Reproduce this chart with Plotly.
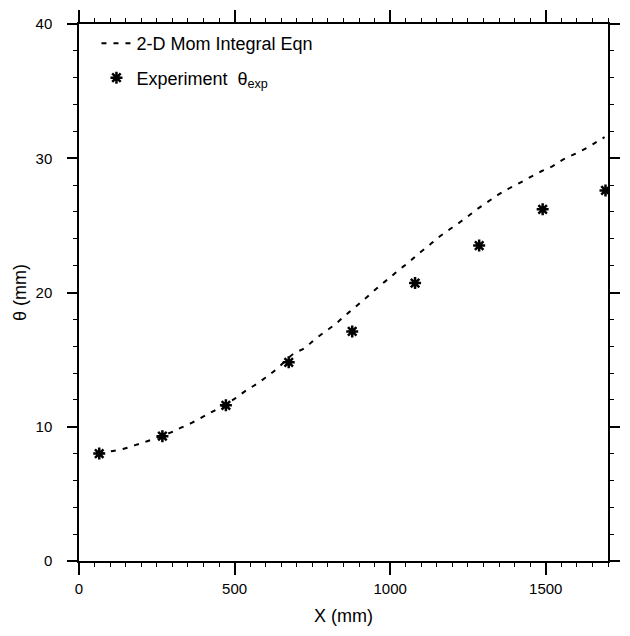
import plotly.graph_objects as go

# Momentum-integral prediction (dashed curve)
curve_x = [65, 103, 144, 183, 219, 296, 330, 364, 399, 434, 504, 535, 569, 600, 633,
           689, 724, 755, 789, 820, 849, 881, 912, 939, 969, 999, 1029, 1060, 1090,
           1123, 1152, 1183, 1216, 1249, 1279, 1311, 1345, 1379, 1415, 1450, 1486,
           1521, 1555, 1592, 1629, 1662, 1689]
curve_y = [7.95, 8.17, 8.36, 8.65, 8.92, 9.58, 9.95, 10.31, 10.75, 11.19, 12.14, 12.67,
           13.16, 13.67, 14.26, 15.43, 15.85, 16.45, 17.06, 17.57, 18.16, 18.79, 19.4,
           19.94, 20.55, 21.11, 21.7, 22.25, 22.87, 23.47, 24.04, 24.57, 25.1, 25.66,
           26.2, 26.71, 27.25, 27.71, 28.15, 28.59, 29.03, 29.4, 29.89, 30.3, 30.74,
           31.2, 31.57]

# Experimental momentum thickness
exp_x = [65, 268, 472, 674, 878, 1080, 1286, 1490, 1692]
exp_y = [8.0, 9.3, 11.6, 14.8, 17.1, 20.7, 23.5, 26.2, 27.6]

x_ticks = [0, 500, 1000, 1500]
y_ticks = [0, 10, 20, 30, 40]

FONT = "Liberation Sans"

fig = go.Figure()
fig.add_trace(go.Scatter(
    x=curve_x, y=curve_y, mode="lines", name="2-D Mom Integral Eqn",
    line=dict(color="black", width=2, dash="5px,7px", shape="spline"),
    legendgroup="a"))
fig.add_trace(go.Scatter(
    x=exp_x, y=exp_y, mode="markers", name="Experiment  θ<sub>exp</sub>",
    marker=dict(symbol="asterisk-open", size=10, color="black",
                line=dict(color="black", width=2.5)),
    legendgroup="b"))

axis_common = dict(
    showline=True, linecolor="black", linewidth=1.5, mirror="ticks",
    ticks="outside", tickcolor="black", tickwidth=1.5,
    showgrid=False, zeroline=False,
    tickfont=dict(family=FONT, size=15, color="black"),
)

fig.update_xaxes(
    range=[0, 1700], tickvals=x_ticks, ticklen=12,
    minor=dict(dtick=50, tick0=0, ticklen=4, ticks="outside", tickcolor="black", tickwidth=1),
    title=dict(text="X (mm)", font=dict(family=FONT, size=18, color="black"), standoff=14),
    ticklabelstandoff=1,
    **axis_common)
fig.update_yaxes(
    range=[0, 40], tickvals=y_ticks, ticklen=10,
    minor=dict(dtick=2, tick0=0, ticklen=4, ticks="outside", tickcolor="black", tickwidth=1),
    title=dict(text="θ (mm)", font=dict(family=FONT, size=18, color="black"), standoff=4),
    ticklabelstandoff=12,
    **axis_common)

fig.update_layout(
    width=630, height=636,
    margin=dict(l=79, r=10, t=14, b=75),
    paper_bgcolor="white", plot_bgcolor="white",
    showlegend=True,
    legend=dict(x=0.033, y=0.998, xanchor="left", yanchor="top",
                bgcolor="rgba(0,0,0,0)", borderwidth=0,
                font=dict(family=FONT, size=18, color="black"),
                tracegroupgap=8),
)

fig.write_html("out.html")
